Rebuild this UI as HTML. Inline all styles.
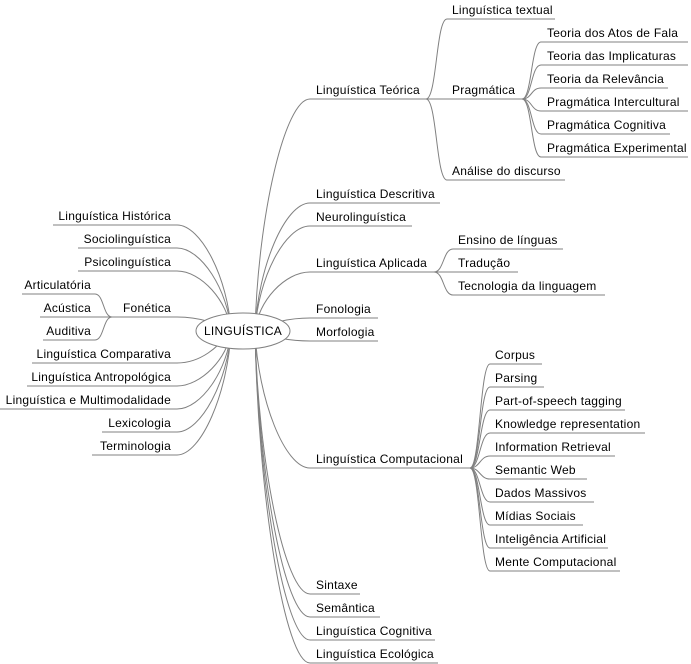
<!DOCTYPE html>
<html><head><meta charset="utf-8"><style>
html,body{margin:0;padding:0;background:#fff;}
svg{display:block;}
text{font-family:"Liberation Sans",Arial,sans-serif;font-size:12px;letter-spacing:0.25px;fill:#000;}
path,line{fill:none;stroke:#808080;stroke-width:1;}
</style></head><body>
<svg width="691" height="664" viewBox="0 0 691 664" xmlns="http://www.w3.org/2000/svg">
<path d="M255 331 C258 215,285 99,310 99 H426"/>
<path d="M255 331 C258 267,285 203,310 203 H440"/>
<path d="M255 331 C258 278,285 226,310 226 H412"/>
<path d="M255 331 C258 301,285 272,310 272 H434"/>
<path d="M255 331 C268 324,285 318,310 318 H378"/>
<path d="M255 331 C268 336,285 341,310 341 H378"/>
<path d="M255 331 C258 400,285 468,310 468 H470"/>
<path d="M255 331 C258 462,285 594,310 594 H360"/>
<path d="M255 331 C258 474,285 617,310 617 H380"/>
<path d="M255 331 C258 485,285 640,310 640 H435"/>
<path d="M255 331 C258 497,285 663,310 663 H438"/>
<path d="M231 331 C228 278,201 225,177 225 H53"/>
<path d="M231 331 C228 290,201 248,177 248 H78"/>
<path d="M231 331 C228 301,201 271,177 271 H78"/>
<path d="M231 331 C218 324,201 317,177 317 H112"/>
<path d="M231 331 C218 347,201 363,177 363 H32"/>
<path d="M231 331 C228 358,201 386,177 386 H27"/>
<path d="M231 331 C228 370,201 409,177 409 H0"/>
<path d="M231 331 C228 381,201 432,177 432 H102"/>
<path d="M231 331 C228 393,201 455,177 455 H92"/>
<path d="M112 317 C103 317,104 294,95 294 H22"/>
<path d="M112 317 H40"/>
<path d="M112 317 C103 317,104 340,95 340 H43"/>
<path d="M426 99 C437 99,436 19,447 19 H555"/>
<path d="M426 99 H522"/>
<path d="M426 99 C437 99,436 180,447 180 H565"/>
<path d="M522 99 C532 99,531 42,541 42 H688"/>
<path d="M522 99 C532 99,531 65,541 65 H688"/>
<path d="M522 99 C532 99,531 88,541 88 H668"/>
<path d="M522 99 C532 99,531 111,541 111 H688"/>
<path d="M522 99 C532 99,531 134,541 134 H670"/>
<path d="M522 99 C532 99,531 157,541 157 H688"/>
<path d="M434 272 C444 272,443 249,453 249 H563"/>
<path d="M434 272 H518"/>
<path d="M434 272 C444 272,443 295,453 295 H605"/>
<path d="M470 468 C480 468,480 364,490 364 H542"/>
<path d="M470 468 C480 468,480 387,490 387 H544"/>
<path d="M470 468 C480 468,480 410,490 410 H625"/>
<path d="M470 468 C480 468,480 433,490 433 H645"/>
<path d="M470 468 C480 468,480 456,490 456 H615"/>
<path d="M470 468 C480 468,480 479,490 479 H587"/>
<path d="M470 468 C480 468,480 502,490 502 H594"/>
<path d="M470 468 C480 468,480 525,490 525 H583"/>
<path d="M470 468 C480 468,480 548,490 548 H608"/>
<path d="M470 468 C480 468,480 571,490 571 H620"/>
<ellipse cx="243" cy="331" rx="47" ry="18" fill="#fff" stroke="#808080"/>
<text x="243" y="335" text-anchor="middle">LINGUÍSTICA</text>
<g>
<text x="316" y="94">Linguística Teórica</text>
<text x="316" y="198">Linguística Descritiva</text>
<text x="316" y="221">Neurolinguística</text>
<text x="316" y="267">Linguística Aplicada</text>
<text x="316" y="313">Fonologia</text>
<text x="316" y="336">Morfologia</text>
<text x="316" y="463">Linguística Computacional</text>
<text x="316" y="589">Sintaxe</text>
<text x="316" y="612">Semântica</text>
<text x="316" y="635">Linguística Cognitiva</text>
<text x="316" y="658">Linguística Ecológica</text>
<text x="452" y="14">Linguística textual</text>
<text x="452" y="94">Pragmática</text>
<text x="452" y="175">Análise do discurso</text>
<text x="547" y="37">Teoria dos Atos de Fala</text>
<text x="547" y="60">Teoria das Implicaturas</text>
<text x="547" y="83">Teoria da Relevância</text>
<text x="547" y="106">Pragmática Intercultural</text>
<text x="547" y="129">Pragmática Cognitiva</text>
<text x="547" y="152">Pragmática Experimental</text>
<text x="458" y="244">Ensino de línguas</text>
<text x="458" y="267">Tradução</text>
<text x="458" y="290">Tecnologia da linguagem</text>
<text x="495" y="359">Corpus</text>
<text x="495" y="382">Parsing</text>
<text x="495" y="405">Part-of-speech tagging</text>
<text x="495" y="428">Knowledge representation</text>
<text x="495" y="451">Information Retrieval</text>
<text x="495" y="474">Semantic Web</text>
<text x="495" y="497">Dados Massivos</text>
<text x="495" y="520">Mídias Sociais</text>
<text x="495" y="543">Inteligência Artificial</text>
<text x="495" y="566">Mente Computacional</text>
</g>
<g text-anchor="end">
<text x="171" y="220">Linguística Histórica</text>
<text x="171" y="243">Sociolinguística</text>
<text x="171" y="266">Psicolinguística</text>
<text x="171" y="312">Fonética</text>
<text x="171" y="358">Linguística Comparativa</text>
<text x="171" y="381">Linguística Antropológica</text>
<text x="171" y="404">Linguística e Multimodalidade</text>
<text x="171" y="427">Lexicologia</text>
<text x="171" y="450">Terminologia</text>
<text x="91" y="289">Articulatória</text>
<text x="91" y="312">Acústica</text>
<text x="91" y="335">Auditiva</text>
</g>
</svg>
</body></html>
